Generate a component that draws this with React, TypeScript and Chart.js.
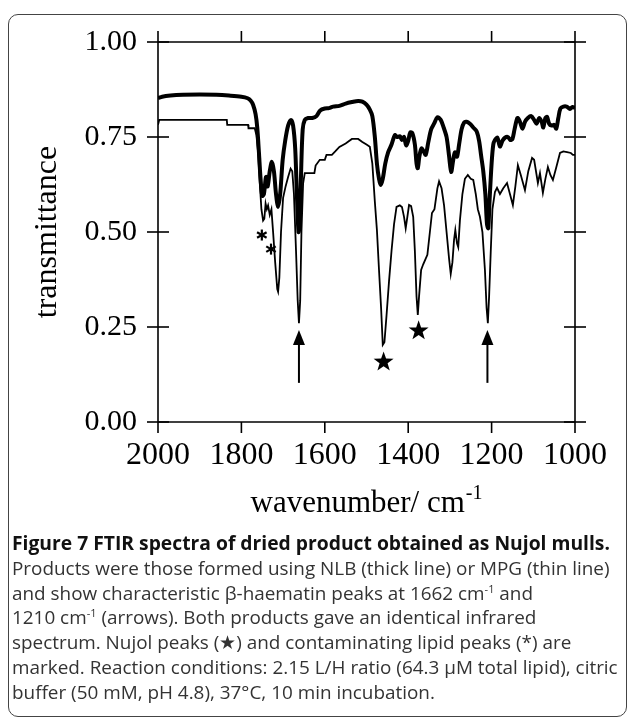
import React, { useEffect, useRef } from "react";
import { Chart, registerables } from "chart.js";

Chart.register(...registerables);

// ---- data ----
const X_TICKS = [2000, 1800, 1600, 1400, 1200, 1000];
const Y_TICKS = [0, 0.25, 0.5, 0.75, 1.0];

// NLB (thick line)
const THICK_WN = [2000,1990,1970,1940,1900,1860,1830,1800,1785,1778,1772,1766,1762,1758,1754,1750,1746,1741,1737,1732,1727,1722,1717,1712,1707,1701,1695,1688,1681,1676,1671,1667,1663,1660,1657,1653,1648,1640,1630,1620,1611,1600,1590,1580,1565,1550,1535,1520,1510,1500,1492,1486,1480,1475,1470,1466,1461,1455,1448,1440,1432,1427,1420,1415,1410,1405,1400,1395,1390,1384,1380,1377,1373,1368,1362,1358,1352,1345,1338,1330,1322,1315,1308,1302,1297,1292,1288,1283,1278,1272,1266,1260,1252,1244,1236,1230,1225,1220,1215,1211,1208,1205,1200,1196,1192,1186,1180,1174,1168,1161,1155,1150,1145,1138,1132,1126,1120,1113,1105,1098,1092,1086,1080,1076,1071,1067,1062,1056,1050,1045,1040,1035,1028,1020,1012,1006,1000];
const THICK_T = [0.852,0.856,0.859,0.861,0.862,0.861,0.859,0.856,0.852,0.846,0.835,0.81,0.775,0.71,0.64,0.595,0.6,0.645,0.62,0.66,0.685,0.66,0.6,0.566,0.6,0.69,0.74,0.78,0.795,0.78,0.72,0.6,0.5,0.52,0.65,0.77,0.795,0.8,0.8,0.805,0.82,0.825,0.826,0.83,0.832,0.838,0.842,0.845,0.843,0.835,0.822,0.805,0.75,0.68,0.64,0.624,0.64,0.68,0.71,0.73,0.755,0.75,0.752,0.742,0.75,0.728,0.74,0.762,0.76,0.73,0.68,0.668,0.7,0.72,0.71,0.703,0.735,0.77,0.785,0.802,0.795,0.775,0.75,0.7,0.658,0.69,0.71,0.698,0.73,0.77,0.788,0.79,0.785,0.775,0.765,0.74,0.7,0.66,0.6,0.52,0.51,0.58,0.68,0.73,0.742,0.748,0.725,0.74,0.748,0.75,0.742,0.745,0.77,0.8,0.79,0.772,0.79,0.8,0.805,0.795,0.785,0.8,0.79,0.775,0.8,0.803,0.785,0.78,0.782,0.772,0.8,0.825,0.83,0.83,0.824,0.829,0.826];

// MPG (thin line)
const THIN_WN = [2000,1998,1997,1835,1834,1784,1783,1768,1764,1760,1756,1752,1748,1745,1742,1739,1736,1732,1728,1724,1719,1714,1712,1709,1705,1700,1694,1688,1682,1678,1674,1669,1665,1662,1659,1656,1652,1648,1640,1625,1622,1612,1600,1596,1583,1575,1565,1550,1535,1520,1510,1500,1492,1486,1480,1475,1470,1465,1461,1457,1452,1446,1440,1434,1428,1420,1415,1410,1406,1402,1398,1393,1388,1384,1380,1377,1374,1369,1364,1358,1354,1348,1343,1337,1330,1326,1320,1314,1308,1302,1298,1294,1290,1287,1283,1280,1276,1270,1264,1257,1250,1244,1238,1233,1228,1222,1216,1212,1209,1206,1202,1198,1192,1187,1180,1172,1163,1156,1149,1143,1137,1130,1120,1112,1103,1098,1089,1084,1077,1071,1065,1059,1053,1045,1036,1028,1019,1010,1005,1000];
const THIN_T = [0.782,0.782,0.795,0.795,0.782,0.782,0.773,0.773,0.755,0.71,0.63,0.56,0.53,0.535,0.575,0.56,0.57,0.545,0.56,0.5,0.42,0.35,0.343,0.38,0.5,0.59,0.62,0.645,0.667,0.66,0.6,0.45,0.32,0.26,0.32,0.5,0.628,0.655,0.655,0.655,0.675,0.69,0.69,0.703,0.703,0.712,0.724,0.733,0.745,0.745,0.737,0.73,0.724,0.68,0.58,0.505,0.4,0.3,0.203,0.21,0.28,0.37,0.45,0.52,0.566,0.57,0.566,0.54,0.51,0.54,0.571,0.568,0.54,0.45,0.33,0.282,0.33,0.4,0.415,0.43,0.44,0.5,0.55,0.56,0.615,0.633,0.615,0.57,0.5,0.43,0.39,0.42,0.48,0.505,0.47,0.46,0.53,0.6,0.64,0.65,0.64,0.637,0.6,0.56,0.54,0.5,0.4,0.3,0.26,0.33,0.45,0.56,0.605,0.616,0.6,0.615,0.629,0.6,0.571,0.62,0.676,0.65,0.61,0.66,0.695,0.69,0.629,0.655,0.603,0.64,0.671,0.65,0.637,0.67,0.708,0.712,0.71,0.708,0.703,0.703];

// annotations
const ARROW_WN = [1662, 1210];
const ARROW_FROM = 0.103;
const ARROW_TO = 0.242;
const STAR_WN = [1459, 1375];
const STAR_T = [0.158, 0.24];
const ASTER_WN = [1751, 1729];
const ASTER_T = [0.492, 0.455];

const X_TITLE = "wavenumber/ cm";
const X_TITLE_SUP = "-1";
const Y_TITLE = "transmittance";

const SERIF = "'Liberation Serif', 'Times New Roman', serif";

const toPts = (xs: number[], ys: number[]) => xs.map((x, i) => ({ x, y: ys[i] }));

const decorPlugin = {
  id: "decor",
  afterDraw(chart: any) {
    const { ctx, chartArea: a, scales } = chart;
    const xs = scales.x;
    const ys = scales.y;
    ctx.save();
    ctx.strokeStyle = "#000";
    ctx.fillStyle = "#000";
    ctx.lineWidth = 1.6;
    ctx.lineCap = "butt";
    const line = (x1: number, y1: number, x2: number, y2: number) => {
      ctx.beginPath();
      ctx.moveTo(x1, y1);
      ctx.lineTo(x2, y2);
      ctx.stroke();
    };
    // frame
    line(a.left, a.top, a.left, a.bottom);
    line(a.right, a.top, a.right, a.bottom);
    line(a.left, a.top, a.right, a.top);
    line(a.left, a.bottom, a.right, a.bottom);
    // y ticks crossing both vertical axes
    for (const v of Y_TICKS) {
      const py = ys.getPixelForValue(v);
      line(a.left - 11, py, a.left + 11, py);
      line(a.right - 11, py, a.right + 11, py);
    }
    // x ticks outward on top and bottom
    for (const v of X_TICKS) {
      const px = xs.getPixelForValue(v);
      line(px, a.top - 11, px, a.top);
      line(px, a.bottom, px, a.bottom + 11);
    }
    // arrows
    ctx.lineWidth = 2;
    for (const w of ARROW_WN) {
      const px = xs.getPixelForValue(w);
      const y1 = ys.getPixelForValue(ARROW_FROM);
      const y2 = ys.getPixelForValue(ARROW_TO);
      line(px, y1, px, y2 + 12);
      ctx.beginPath();
      ctx.moveTo(px, y2);
      ctx.lineTo(px - 6, y2 + 15);
      ctx.lineTo(px + 6, y2 + 15);
      ctx.closePath();
      ctx.fill();
    }
    // stars
    STAR_WN.forEach((w, i) => {
      const cx = xs.getPixelForValue(w);
      const cy = ys.getPixelForValue(STAR_T[i]);
      const R = 10.5, r = 4.2;
      ctx.beginPath();
      for (let k = 0; k < 10; k++) {
        const ang = -Math.PI / 2 + (k * Math.PI) / 5;
        const rad = k % 2 === 0 ? R : r;
        const px = cx + rad * Math.cos(ang);
        const py = cy + rad * Math.sin(ang);
        if (k === 0) ctx.moveTo(px, py);
        else ctx.lineTo(px, py);
      }
      ctx.closePath();
      ctx.fill();
    });
    // asterisks
    ctx.lineWidth = 2.2;
    ASTER_WN.forEach((w, i) => {
      const cx = xs.getPixelForValue(w);
      const cy = ys.getPixelForValue(ASTER_T[i]);
      const s = 5.5;
      for (let k = 0; k < 3; k++) {
        const ang = Math.PI / 2 + (k * Math.PI) / 3;
        line(cx - s * Math.cos(ang), cy - s * Math.sin(ang), cx + s * Math.cos(ang), cy + s * Math.sin(ang));
      }
    });
    // x title with superscript
    ctx.font = `31px ${SERIF}`;
    const w1 = ctx.measureText(X_TITLE).width;
    ctx.font = `20px ${SERIF}`;
    const w2 = ctx.measureText(X_TITLE_SUP).width;
    const total = w1 + w2 + 1;
    const sx = (a.left + a.right) / 2 - total / 2;
    const base = 512;
    ctx.textBaseline = "alphabetic";
    ctx.textAlign = "left";
    ctx.font = `31px ${SERIF}`;
    ctx.fillText(X_TITLE, sx, base);
    ctx.font = `20px ${SERIF}`;
    ctx.fillText(X_TITLE_SUP, sx + w1 + 1, base - 13);
    ctx.restore();
  },
};

export default function App() {
  const ref = useRef<HTMLCanvasElement | null>(null);
  useEffect(() => {
    if (!ref.current) return;
    const chart = new Chart(ref.current, {
      type: "line",
      data: {
        datasets: [
          {
            label: "NLB",
            data: toPts(THICK_WN, THICK_T),
            borderColor: "#000",
            borderWidth: 4,
            pointRadius: 0,
            tension: 0.3,
            fill: false,
          },
          {
            label: "MPG",
            data: toPts(THIN_WN, THIN_T),
            borderColor: "#000",
            borderWidth: 1.8,
            pointRadius: 0,
            tension: 0,
            fill: false,
          },
        ],
      },
      options: {
        animation: false,
        responsive: false,
        events: [],
        layout: { padding: { left: 0, right: 54, top: 42, bottom: 18 } },
        plugins: { legend: { display: false }, tooltip: { enabled: false } },
        scales: {
          x: {
            type: "linear",
            reverse: true,
            min: 1000,
            max: 2000,
            afterFit: (s: any) => {
              s.height = 90;
            },
            afterBuildTicks: (s: any) => {
              s.ticks = X_TICKS.map((v) => ({ value: v }));
            },
            grid: { display: true, drawTicks: false, color: "rgba(0,0,0,0)" },
            border: { display: false },
            ticks: {
              padding: 14,
              maxRotation: 0,
              autoSkip: false,
              color: "#000",
              font: { family: SERIF, size: 32 },
              callback: (v: any) => String(v),
            },
          },
          y: {
            min: 0,
            max: 1,
            afterFit: (s: any) => {
              s.width = 158;
            },
            afterBuildTicks: (s: any) => {
              s.ticks = Y_TICKS.map((v) => ({ value: v }));
            },
            grid: { display: true, drawTicks: false, color: "rgba(0,0,0,0)" },
            border: { display: false },
            title: {
              display: true,
              text: Y_TITLE,
              color: "#000",
              font: { family: SERIF, size: 32 },
              padding: { top: 28, bottom: 0 },
            },
            ticks: {
              padding: 21,
              color: "#000",
              font: { family: SERIF, size: 30 },
              callback: (v: any) => Number(v).toFixed(2),
            },
          },
        },
      },
      plugins: [decorPlugin],
    });
    return () => chart.destroy();
  }, []);

  const cap: React.CSSProperties = {
    position: "absolute",
    left: 12,
    top: 531,
    fontFamily: "'Open Sans', 'Noto Sans', sans-serif",
    fontSize: 18.9,
    lineHeight: "24.8px",
    color: "#333",
    whiteSpace: "nowrap",
  };
  const sup: React.CSSProperties = { fontSize: 11, verticalAlign: "top", lineHeight: "16px" };

  return (
    <div style={{ position: "absolute", left: 0, top: 0, width: 629, height: 718, overflow: "hidden" }}>
      <div
        style={{
          position: "absolute",
          left: 8,
          top: 14,
          width: 619,
          height: 703,
          border: "1px solid #444",
          borderRadius: 10,
          boxSizing: "border-box",
        }}
      />
      <canvas
        ref={ref}
        width={629}
        height={530}
        style={{ position: "absolute", left: 0, top: 0, width: 629, height: 530 }}
      />
      <div style={cap}>
        <div style={{ fontWeight: 700, color: "#111", fontSize: 19.3 }}>
          Figure 7 FTIR spectra of dried product obtained as Nujol mulls.
        </div>
        <div>Products were those formed using NLB (thick line) or MPG (thin line)</div>
        <div>
          and show characteristic β-haematin peaks at 1662 cm<span style={sup}>-1</span> and
        </div>
        <div>
          1210 cm<span style={sup}>-1</span> (arrows). Both products gave an identical infrared
        </div>
        <div>spectrum. Nujol peaks (★) and contaminating lipid peaks (*) are</div>
        <div>marked. Reaction conditions: 2.15 L/H ratio (64.3 μM total lipid), citric</div>
        <div>buffer (50 mM, pH 4.8), 37°C, 10 min incubation.</div>
      </div>
    </div>
  );
}
